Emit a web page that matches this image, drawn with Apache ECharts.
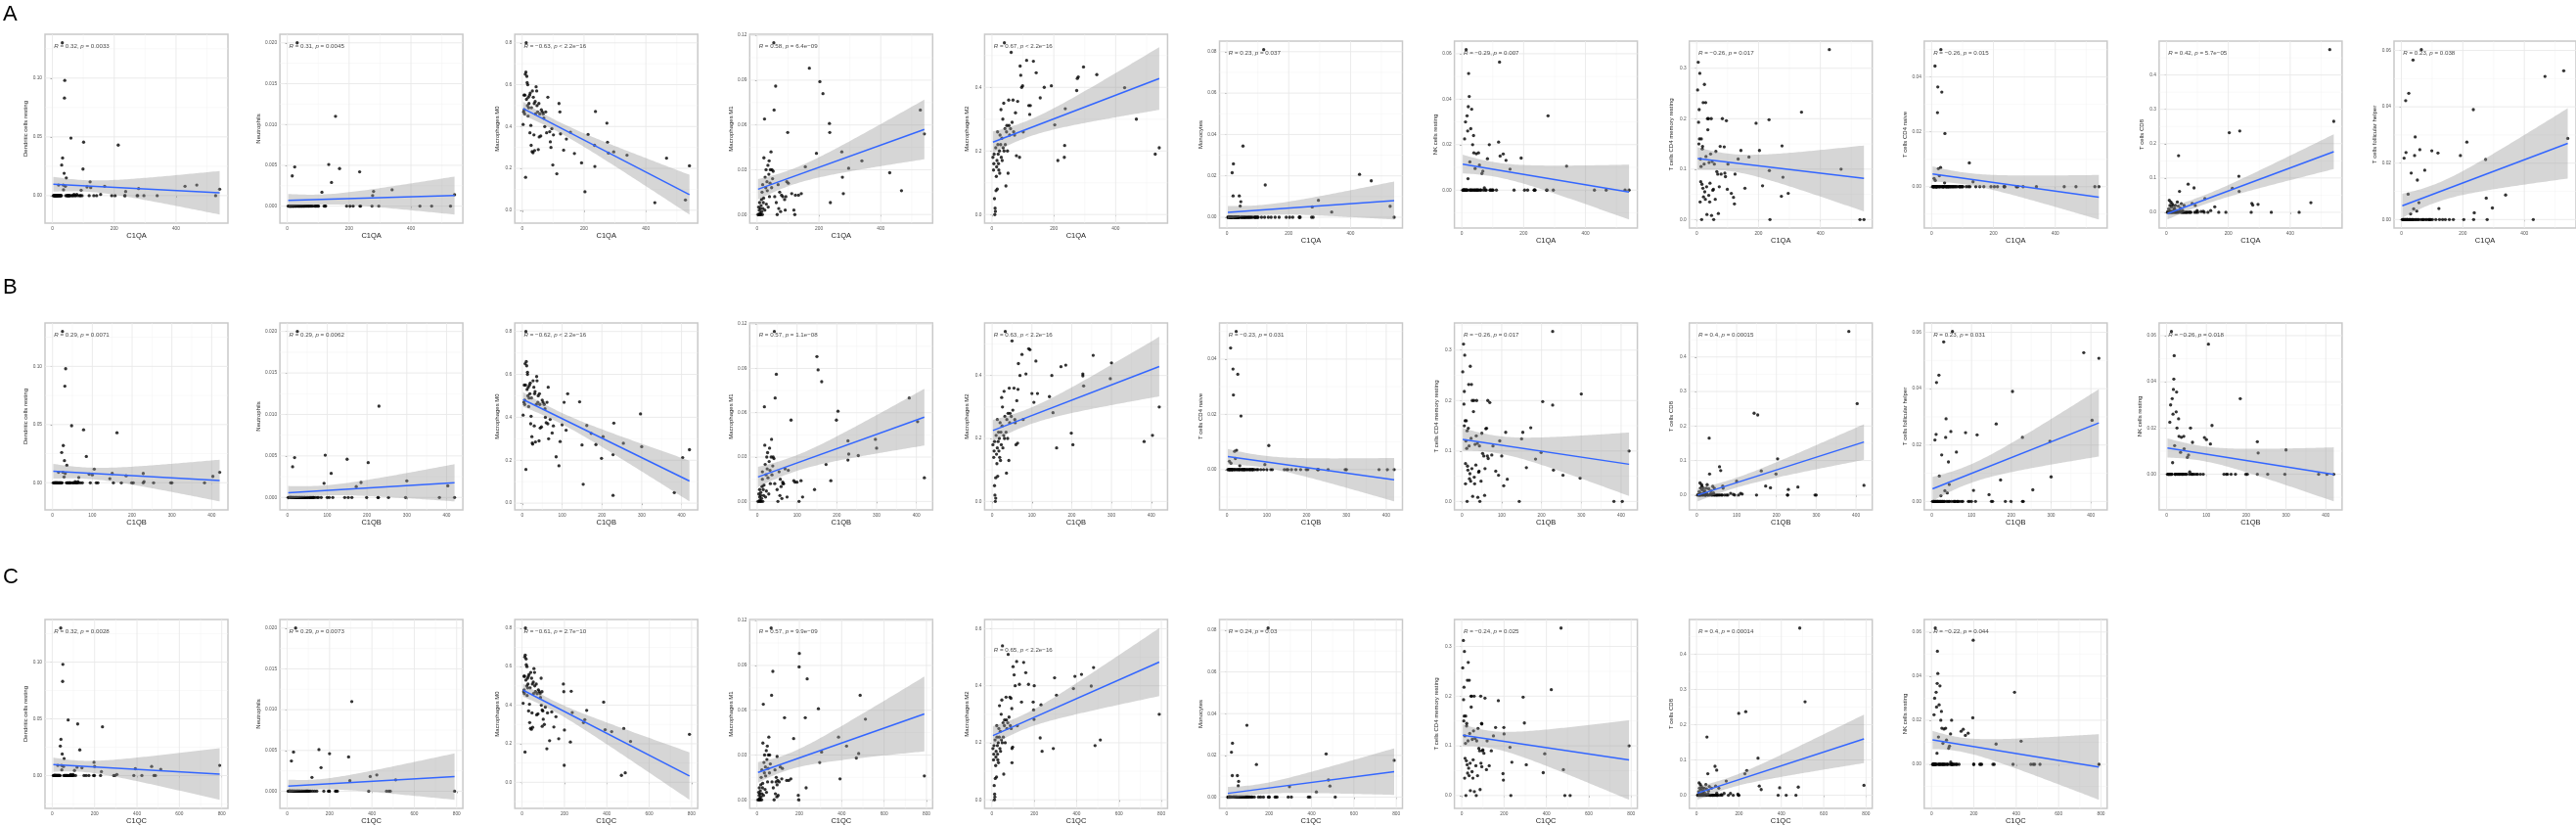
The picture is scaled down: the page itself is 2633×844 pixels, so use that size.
<!DOCTYPE html>
<html>
<head>
<meta charset="utf-8">
<script src="https://cdn.jsdelivr.net/npm/echarts@6/dist/echarts.min.js"></script>
<style>
html,body{margin:0;padding:0;background:#fff}
#main{width:2633px;height:844px}
</style>
</head>
<body>
<div id="main"></div>
<script>
// expression of the three genes per sample (same 80 samples in every row)
var C1QA = [3,5,6,7,8,9,10,11,12,13,14,15,16,17,18,19,20,21,22,24,
  25,26,28,29,30,32,33,35,36,38,39,40,42,43,45,47,48,50,52,54,
  55,57,60,62,65,68,70,73,76,79,83,89,91,93,96,99,101,112,119,122,
  124,134,143,156,169,192,203,213,234,235,237,274,276,279,296,339,429,467,528,541];
var C1QB = [2,4,5,6,6,8,7,9,10,9,12,11,13,14,13,16,15,17,19,18,
  21,20,22,24,23,25,27,26,29,30,31,33,32,35,36,37,40,39,42,43,
  45,44,48,50,52,55,57,58,62,64,65,60,75,66,70,85,78,92,114,105,
  100,95,110,230,150,228,153,162,203,199,144,297,173,185,254,300,228,420,382,403];
var C1QC = [5,8,9,10,11,12,13,14,15,16,18,19,20,22,23,24,26,27,28,30,
  31,33,35,36,38,40,41,44,45,47,49,50,53,54,56,59,60,63,95,67,
  69,71,75,77,81,85,87,91,94,98,90,95,100,105,110,130,120,117,195,197,
  140,150,160,305,200,173,199,237,290,228,232,385,296,392,480,423,469,790,487,512];

// immune cell fractions (CIBERSORT-like), same sample order
var dcResting = [0,0,0,0,0,0,0,0,0,0,
  0,0,0,0,0,0,0.009,0,0,0,
  0,0,0,0,0.026,0.13,0.032,0.009,0.005,0.019,
  0.083,0.098,0.008,0,0.015,0,0,0,0,0,
  0,0,0.049,0,0,0,0.001,0,0,0.001,
  0,0,0,0.0046,0,0.0226,0.0455,0.0074,0,0.0117,
  0.0068,0,0,0.001,0.008,0,0,0.043,0,0,
  0.0035,0,0,0.006,0,0,0.008,0.009,0,0.0055];
var neutrophils = [0,0,0,0,0,0,0,0,0,0,
  0,0,0.0037,0,0,0,0,0,0,0.0048,
  0,0,0,0,0,0.02,0,0,0,0,
  0,0,0,0,0,0,0,0,0,0,
  0,0,0,0,0,0,0,0,0,0,
  0,0,0,0,0,0,0,0.0017,0,0,
  0,0.0051,0.0029,0.011,0.0046,0,0,0,0.0042,0,
  0,0,0.0013,0.0018,0,0.002,0,0,0,0.0014];
var macroM0 = [0.41,0.47,0.55,0.48,0.46,0.55,0.65,0.157,0.66,0.80,
  0.53,0.64,0.61,0.5,0.6,0.45,0.54,0.49,0.51,0.55,
  0.37,0.56,0.405,0.31,0.49,0.28,0.57,0.275,0.54,0.36,
  0.51,0.285,0.52,0.46,0.59,0.57,0.5,0.47,0.29,0.51,
  0.35,0.46,0.355,0.48,0.47,0.46,0.44,0.4,0.47,0.37,
  0.54,0.375,0.327,0.30,0.39,0.216,0.36,0.174,0.51,0.47,
  0.365,0.287,0.34,0.373,0.271,0.226,0.088,0.362,0.31,0.209,
  0.472,0.416,0.325,0.273,0.279,0.263,0.036,0.249,0.049,0.212];
var macroM1 = [0,0.005,0,0.003,0.008,0,0.001,0.004,0,0.006,
  0.01,0.002,0.015,0,0.02,0.004,0.008,0.011,0.038,0.064,
  0.003,0.025,0.018,0.03,0.007,0.022,0.016,0.033,0.005,0.027,
  0.036,0.012,0.021,0.03,0.042,0.018,0.03,0.024,0.029,0.115,
  0.07,0.012,0.086,0.008,0,0.02,0.004,0.015,0.002,0.013,
  0.012,0.01,0.003,0.012,0.022,0.055,0.021,0.014,0.003,0,
  0.013,0.013,0.014,0.032,0.098,0.041,0.089,0.081,0.061,0.055,
  0.008,0.042,0.025,0.014,0.031,0.036,0.028,0.016,0.07,0.054];
var macroM2 = [0.18,0.14,0.16,0.19,0.05,0,0.02,0.01,0.21,0.075,
  0.12,0.15,0.17,0.08,0.26,0.22,0.19,0.16,0.14,0.2,
  0.13,0.25,0.22,0.33,0.18,0.24,0.17,0.3,0.21,0.35,
  0.2,0.54,0.27,0.22,0.09,0.26,0.28,0.2,0.13,0.36,
  0.28,0.25,0.27,0.51,0.29,0.36,0.26,0.25,0.32,0.185,
  0.356,0.18,0.467,0.438,0.4,0.405,0.26,0.485,0.343,0.315,
  0.343,0.482,0.446,0.367,0.4,0.405,0.282,0.17,0.18,0.217,
  0.333,0.39,0.428,0.433,0.464,0.44,0.399,0.30,0.19,0.21];
var monocytes = [0,0,0,0,0,0,0,0,0,0,
  0,0,0,0.0215,0,0,0.0103,0.0258,0,0,
  0,0,0,0,0,0,0,0,0,0,
  0,0.0103,0,0.0054,0.0075,0,0,0,0.0344,0,
  0,0,0,0,0,0,0,0,0,0,
  0,0,0,0,0,0,0,0,0.081,0,
  0.0156,0,0,0,0,0,0,0,0,0,
  0,0,0.005,0,0.0082,0.0025,0.0207,0.0176,0.0053,0];
var nkResting = [0,0,0,0,0,0.0225,0,0,0.03,0,
  0.0618,0,0,0.0327,0,0.026,0.005,0.0367,0.0513,0.0412,
  0,0.0124,0,0.027,0,0.0356,0,0.02,0,0.024,
  0.0164,0,0,0.0095,0,0.016,0,0,0,0.0164,
  0,0.011,0,0,0.0073,0.0083,0,0.001,0,0,
  0.0138,0.02,0,0,0,0,0,0,0.0211,0.0563,
  0.015,0.0159,0.0131,0.0092,0,0.0141,0,0,0,0,
  0,0,0,0.0327,0,0.0105,0,0,0,0];
var cd4Memory = [0.257,0.312,0.193,0.15,0.218,0.16,0.29,0.035,0.12,0.075,
  0.105,0.16,0,0.07,0.14,0.145,0.062,0.232,0.045,0.11,
  0.268,0.055,0.04,0.232,0.125,0.065,0.01,0.2,0.178,0.2,
  0.048,0.113,0.035,0.072,0.13,0.2,0.008,0.115,0.058,0.06,
  0,0.11,0.04,0.135,0.095,0.09,0.012,0.065,0.145,0.09,
  0.2,0.144,0.092,0.085,0.196,0.06,0.11,0.052,0.044,0.031,
  0.09,0.12,0.137,0.062,0.124,0.191,0.137,0.067,0.198,0.097,
  0,0.046,0.146,0.084,0.052,0.213,0.337,0.1,0,0];
var cd4Naive = [0,0,0,0,0.003,0,0,0.044,0.0023,0,
  0,0,0,0,0,0.027,0.0364,0,0.0066,0,
  0.004,0,0,0.007,0.05,0,0.0345,0,0,0,
  0,0,0.0014,0.0194,0,0,0,0,0,0,
  0,0,0,0,0,0,0,0,0,0,
  0,0,0,0,0,0,0,0,0,0.0087,
  0,0.0018,0,0,0,0,0,0,0,0,
  0,0,0,0,0,0,0,0,0,0];
var cd8 = [0,0.002,0,0.01,0,0.035,0,0.02,0.005,0,
  0.03,0,0.015,0,0.025,0,0.003,0.02,0,0.008,
  0,0.012,0,0.02,0,0.005,0,0.03,0,0.018,
  0.165,0,0.061,0.004,0.012,0,0.025,0,0.006,0,
  0,0.02,0,0,0,0,0.082,0,0,0,
  0.026,0.071,0,0.02,0,0.005,0,0.002,0.003,0,
  0.04,0,0.005,0.016,0,0,0.232,0.07,0.105,0.061,
  0.237,0,0.026,0.021,0.023,0,0,0.028,0.474,0.265];
var tfh = [0,0,0,0,0,0.0218,0,0,0,0,
  0.0422,0.0238,0,0,0,0,0,0,0.009,0.0448,
  0,0,0,0,0.002,0.0165,0,0,0,0.0566,
  0,0.0038,0,0.0227,0.0293,0,0,0.003,0.014,0,
  0,0.006,0.0248,0,0.0603,0,0,0,0.0175,0,
  0,0,0,0,0,0.0244,0,0,0.0236,0.0039,
  0,0,0,0,0,0.0227,0,0.0275,0.039,0,
  0.0024,0.0213,0.0076,0,0.0041,0.0087,0,0.0508,0.0528,0.0288];

// panel order and correlation text of each row
var rowAPanels = ['dc','neu','m0','m1','m2','mono','nk','cd4mem','cd4naive','cd8','tfh'];
var rowAStats = ['R = 0.32, p = 0.0033','R = 0.31, p = 0.0045','R = \u22120.63, p < 2.2e\u221216','R = 0.58, p = 6.4e\u221209',
  'R = 0.67, p < 2.2e\u221216','R = 0.23, p = 0.037','R = \u22120.29, p = 0.007','R = \u22120.26, p = 0.017',
  'R = \u22120.26, p = 0.015','R = 0.42, p = 5.7e\u221205','R = 0.23, p = 0.038'];
var rowBPanels = ['dc','neu','m0','m1','m2','cd4naive','cd4mem','cd8','tfh','nk'];
var rowBStats = ['R = 0.29, p = 0.0071','R = 0.29, p = 0.0062','R = \u22120.62, p < 2.2e\u221216','R = 0.57, p = 1.1e\u221208',
  'R = 0.63, p < 2.2e\u221216','R = \u22120.23, p = 0.031','R = \u22120.26, p = 0.017','R = 0.4, p = 0.00015',
  'R = 0.23, p = 0.031','R = \u22120.26, p = 0.018'];
var rowCPanels = ['dc','neu','m0','m1','m2','mono','cd4mem','cd8','nk'];
var rowCStats = ['R = 0.32, p = 0.0028','R = 0.29, p = 0.0073','R = \u22120.61, p = 2.7e\u221210','R = 0.57, p = 9.9e\u221209',
  'R = 0.65, p < 2.2e\u221216','R = 0.24, p = 0.03','R = \u22120.24, p = 0.025','R = 0.4, p = 0.00014',
  'R = \u22120.22, p = 0.044'];

// y title, values, tick step, decimals
var cellTypes = {
  dc: ['Dendritic cells resting', dcResting, 0.05, 2],
  neu: ['Neutrophils', neutrophils, 0.005, 3],
  m0: ['Macrophages M0', macroM0, 0.2, 1],
  m1: ['Macrophages M1', macroM1, 0.03, 2],
  m2: ['Macrophages M2', macroM2, 0.2, 1],
  mono: ['Monocytes', monocytes, 0.02, 2],
  nk: ['NK cells resting', nkResting, 0.02, 2],
  cd4mem: ['T cells CD4 memory resting', cd4Memory, 0.1, 1],
  cd4naive: ['T cells CD4 naive', cd4Naive, 0.02, 2],
  cd8: ['T cells CD8', cd8, 0.1, 1],
  tfh: ['T cells follicular helper', tfh, 0.02, 2]
};

var rows = [
  {letter:'A', x:C1QA, xName:'C1QA', xStep:200, panels:rowAPanels, stats:rowAStats, letterTop:4},
  {letter:'B', x:C1QB, xName:'C1QB', xStep:100, panels:rowBPanels, stats:rowBStats, letterTop:283},
  {letter:'C', x:C1QC, xName:'C1QC', xStep:200, panels:rowCPanels, stats:rowCStats, letterTop:579}
];

var FONT = '"Liberation Sans", Arial, sans-serif';

function panelBox(r, i) {
  if (r === 0) return i < 5 ? [35, 228] : [42, 233];
  if (r === 1) return [330, 521];
  return [633, 826];
}

function ticksOf(lo, hi, step) {
  var out = [];
  for (var k = Math.ceil(lo / step - 1e-9); k <= Math.floor(hi / step + 1e-9); k++) {
    out.push(+(k * step).toFixed(8));
  }
  return out;
}
function minorsOf(lo, hi, step) {
  var out = [];
  for (var k = Math.floor(lo / step) - 1; k <= Math.ceil(hi / step); k++) {
    var v = (k + 0.5) * step;
    if (v > lo && v < hi) out.push(v);
  }
  return out;
}

// linear model with 95% confidence band (like geom_smooth(method = lm))
function lmBand(xs, ys) {
  var n = xs.length, mx = 0, my = 0, i;
  for (i = 0; i < n; i++) { mx += xs[i]; my += ys[i]; }
  mx /= n; my /= n;
  var sxx = 0, sxy = 0;
  for (i = 0; i < n; i++) { sxx += (xs[i]-mx)*(xs[i]-mx); sxy += (xs[i]-mx)*(ys[i]-my); }
  var b = sxy / sxx, a = my - b * mx, rss = 0;
  for (i = 0; i < n; i++) { var e = ys[i] - a - b * xs[i]; rss += e * e; }
  var s = Math.sqrt(rss / (n - 2)), t = 1.9908;
  var x0 = Math.min.apply(null, xs), x1 = Math.max.apply(null, xs);
  var gx = [], lo = [], hi = [];
  for (i = 0; i < 80; i++) {
    var x = x0 + (x1 - x0) * i / 79, f = a + b * x;
    var se = s * Math.sqrt(1 / n + (x - mx) * (x - mx) / sxx);
    gx.push(x); lo.push(f - t * se); hi.push(f + t * se);
  }
  return {gx: gx, lo: lo, hi: hi, line: [[x0, a + b * x0], [x1, a + b * x1]]};
}

var grids = [], xAxes = [], yAxes = [], series = [], graphics = [];

rows.forEach(function (row, r) {
  graphics.push({type:'text', left:3, top:row.letterTop,
    style:{text:row.letter, fontSize:22, fontFamily:FONT, fill:'#000'}});
  row.panels.forEach(function (key, i) {
    var ct = cellTypes[key];
    var ys = ct[1], xs = row.x, yStep = ct[2], yDec = ct[3];
    var fit = lmBand(xs, ys);
    var xmin = Math.min.apply(null, xs), xmax = Math.max.apply(null, xs);
    var xr = [xmin - 0.05 * (xmax - xmin), xmax + 0.05 * (xmax - xmin)];
    var ylo = Math.min(Math.min.apply(null, ys), Math.min.apply(null, fit.lo));
    var yhi = Math.max(Math.max.apply(null, ys), Math.max.apply(null, fit.hi));
    var yr = [ylo - 0.05 * (yhi - ylo), yhi + 0.05 * (yhi - ylo)];
    var xT = ticksOf(xr[0], xr[1], row.xStep), yT = ticksOf(yr[0], yr[1], yStep);
    var xM = minorsOf(xr[0], xr[1], row.xStep), yM = minorsOf(yr[0], yr[1], yStep);
    var box = panelBox(r, i);
    var g = grids.length;

    grids.push({left: 46 + 240.1 * i, top: box[0], width: 187, height: box[1] - box[0],
      show: true, backgroundColor: '#fff', borderColor: '#c9c9c9', borderWidth: 1.5});
    xAxes.push({gridIndex: g, type: 'value', min: xr[0], max: xr[1],
      name: row.xName, nameLocation: 'middle', nameGap: 9,
      nameTextStyle: {fontSize: 7.5, color: '#1a1a1a', fontFamily: FONT},
      axisLine: {show: false}, splitLine: {show: false},
      axisTick: {show: true, customValues: xT, length: 2, lineStyle: {color: '#444', width: 0.6}},
      axisLabel: {customValues: xT, fontSize: 4.8, color: '#555', margin: 3, fontFamily: FONT,
        formatter: function (v) { return String(Math.round(v)); }}});
    yAxes.push({gridIndex: g, type: 'value', min: yr[0], max: yr[1],
      name: ct[0], nameLocation: 'middle', nameGap: 15,
      nameTextStyle: {fontSize: 6, color: '#1a1a1a', fontFamily: FONT},
      axisLine: {show: false}, splitLine: {show: false},
      axisTick: {show: true, customValues: yT, length: 2, lineStyle: {color: '#444', width: 0.6}},
      axisLabel: {customValues: yT, fontSize: 4.8, color: '#555', margin: 3, fontFamily: FONT,
        formatter: function (v) { return (+v).toFixed(yDec); }}});

    // grid lines
    series.push({type: 'custom', xAxisIndex: g, yAxisIndex: g, z: 1, silent: true,
      data: [[xT[0], yT[0]]],
      renderItem: function (params, api) {
        var cs = params.coordSys, ch = [];
        function hline(v, c, w) {
          var p = api.coord([xr[0], v]);
          ch.push({type: 'line', shape: {x1: cs.x, y1: p[1], x2: cs.x + cs.width, y2: p[1]}, style: {stroke: c, lineWidth: w}});
        }
        function vline(v, c, w) {
          var p = api.coord([v, yr[0]]);
          ch.push({type: 'line', shape: {x1: p[0], y1: cs.y, x2: p[0], y2: cs.y + cs.height}, style: {stroke: c, lineWidth: w}});
        }
        yM.forEach(function (v) { hline(v, '#f3f3f3', 0.5); });
        xM.forEach(function (v) { vline(v, '#f3f3f3', 0.5); });
        yT.forEach(function (v) { hline(v, '#e9e9e9', 0.9); });
        xT.forEach(function (v) { vline(v, '#e9e9e9', 0.9); });
        return {type: 'group', children: ch};
      }});
    // points
    series.push({type: 'scatter', xAxisIndex: g, yAxisIndex: g, z: 2, symbolSize: 3.3,
      itemStyle: {color: '#000'},
      data: xs.map(function (x, k) { return [x, ys[k]]; })});
    // confidence band
    series.push({type: 'custom', xAxisIndex: g, yAxisIndex: g, z: 3, silent: true,
      data: [[fit.gx[0], fit.lo[0]]],
      renderItem: function (params, api) {
        var up = fit.gx.map(function (x, k) { return api.coord([x, fit.hi[k]]); });
        var dn = fit.gx.map(function (x, k) { return api.coord([x, fit.lo[k]]); }).reverse();
        return {type: 'polygon', shape: {points: up.concat(dn)}, style: {fill: 'rgba(153,153,153,0.4)'}};
      }});
    // regression line
    series.push({type: 'line', xAxisIndex: g, yAxisIndex: g, z: 4, silent: true,
      symbol: 'none', lineStyle: {color: '#3366FF', width: 1.5}, data: fit.line});
    // correlation label
    var txt = row.stats[i].replace('R =', '{i|R} =').replace(', p ', ', {i|p} ');
    series.push({type: 'scatter', xAxisIndex: g, yAxisIndex: g, z: 5, silent: true, symbolSize: 0,
      data: [[xr[0] + 0.05 * (xr[1] - xr[0]), Math.max.apply(null, ys)]],
      label: {show: true, position: [0, 1], align: 'left', verticalAlign: 'top',
        formatter: txt, fontSize: 6.2, color: '#111', fontFamily: FONT,
        rich: {i: {fontSize: 6.2, fontStyle: 'italic', color: '#111', fontFamily: FONT}}}});
  });
});

var chart = echarts.init(document.getElementById('main'));
chart.setOption({
  animation: false,
  backgroundColor: '#fff',
  grid: grids,
  xAxis: xAxes,
  yAxis: yAxes,
  series: series,
  graphic: graphics
});
</script>
</body>
</html>
